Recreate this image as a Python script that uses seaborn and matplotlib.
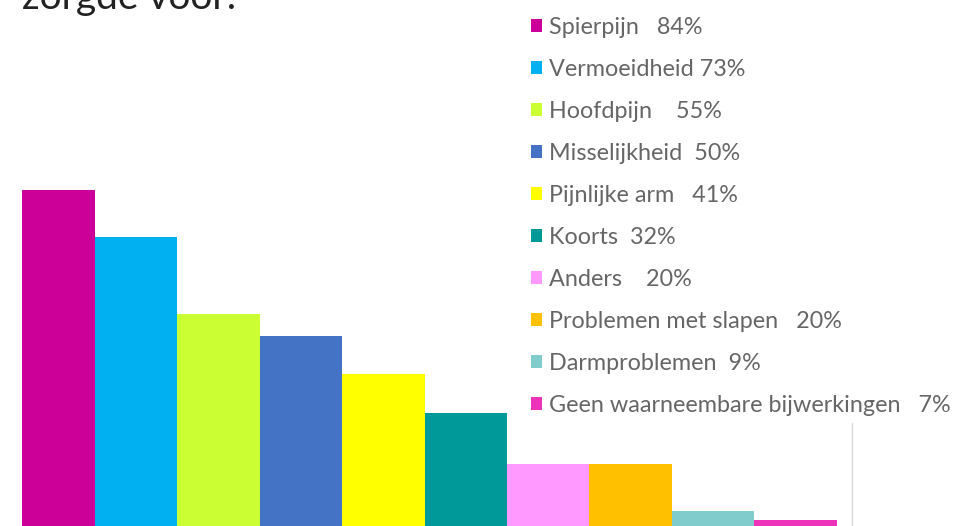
import pandas as pd
import seaborn as sns
import matplotlib.pyplot as plt
from matplotlib.patches import Patch

# data
categories = ['Spierpijn', 'Vermoeidheid', 'Hoofdpijn', 'Misselijkheid', 'Pijnlijke arm',
              'Koorts', 'Anders', 'Problemen met slapen', 'Darmproblemen',
              'Geen waarneembare bijwerkingen']
values = [84, 73, 55, 50, 41, 32, 20, 20, 9, 7]
legend_labels = ['Spierpijn   84%', 'Vermoeidheid 73%', 'Hoofdpijn    55%',
                 'Misselijkheid  50%', 'Pijnlijke arm   41%', 'Koorts  32%',
                 'Anders    20%', 'Problemen met slapen   20%', 'Darmproblemen  9%',
                 'Geen waarneembare bijwerkingen   7%']
colors = ['#CC0099', '#00B0F0', '#CCFF33', '#4472C4', '#FFFF00',
          '#009999', '#FF99FF', '#FFC000', '#80CCCC', '#EE33BB']

df = pd.DataFrame({'cat': categories, 'val': values})

sns.set_style('white')
plt.rcParams['font.family'] = ['Lato', 'DejaVu Sans']

fig = plt.figure(figsize=(9.68, 5.26), dpi=100)
ax = fig.add_axes([22 / 968, 0, (852 - 22) / 968, 1])

sns.barplot(x='cat', y='val', hue='cat', data=df, palette=colors, width=1,
            saturation=1, legend=False, linewidth=0, ax=ax)

ax.set_xlim(-0.386, 9.687)
ax.set_ylim(5.6, 128.3)
ax.set_xticks([])
ax.set_yticks([])
ax.set_xlabel('')
ax.set_ylabel('')
for s in ax.spines.values():
    s.set_visible(False)
ax.patch.set_alpha(0)

# thin grey line on the right
ax.axvline(9.687, ymin=0, ymax=(526 - 423) / 526, color='#d9d9d9', lw=1, clip_on=False)

#legend on the right
handles = [Patch(facecolor=c, edgecolor='none') for c in colors]
leg = fig.legend(handles, legend_labels, loc='upper left',
                 bbox_to_anchor=(531 / 968, 1 - 17 / 526), frameon=False,
                 fontsize=16.8, handlelength=0.47, handleheight=0.47, handletextpad=0.3,
                 labelspacing=0.9, borderaxespad=0, borderpad=0)
for t in leg.get_texts():
    t.set_color('#666666')

# title, mostly cut off at the top
fig.text(22 / 968, 1 - 9 / 526, 'zorgde voor:', fontsize=28, color='#222222', va='baseline')

plt.savefig('out.png', dpi=100)
